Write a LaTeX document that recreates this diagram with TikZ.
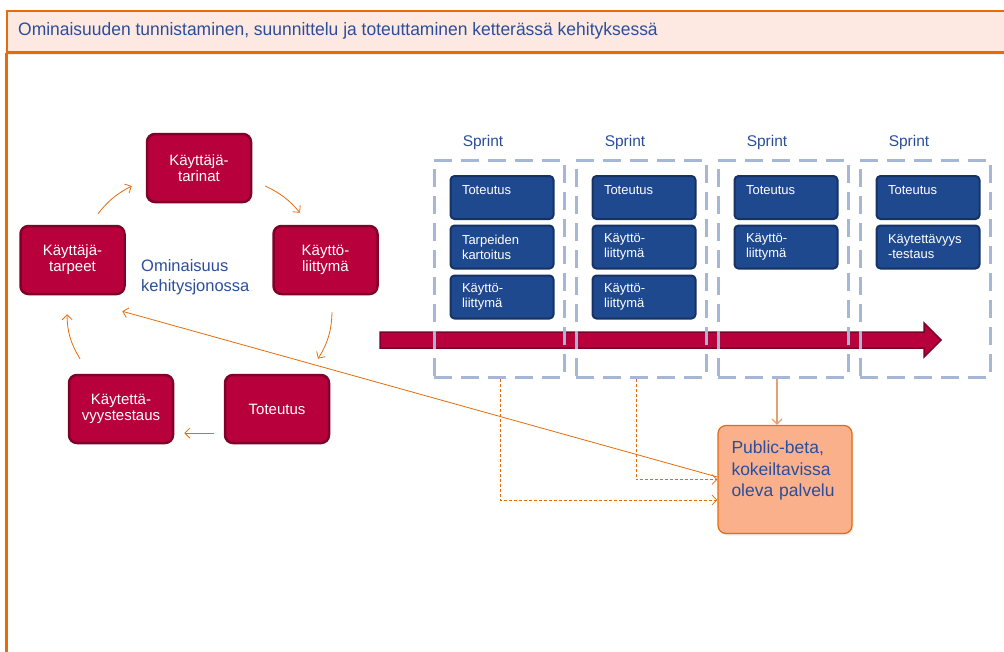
\documentclass[tikz,border=0pt]{standalone}
\usepackage{fontspec}
\setmainfont{Liberation Sans}
\newfontfamily\titlefont[FakeStretch=0.97]{Liberation Sans}
\usetikzlibrary{positioning,calc,shadows,arrows,arrows.meta}

\definecolor{crimson}{RGB}{184,0,60}
\definecolor{crimsondark}{RGB}{128,0,42}
\definecolor{sprintblue}{RGB}{31,73,142}
\definecolor{sprintbluedark}{RGB}{22,50,100}
\definecolor{dashblue}{RGB}{165,182,214}
\definecolor{textblue}{RGB}{43,78,155}
\definecolor{orangeline}{RGB}{228,108,10}
\definecolor{titlefill}{RGB}{253,233,225}
\definecolor{betafill}{RGB}{251,176,140}
\definecolor{lightorange}{RGB}{229,160,110}

\tikzstyle{titlebar}=[rectangle,fill=titlefill,draw=orangeline,line width=1.2pt,minimum width=1003pt,minimum height=41pt,inner sep=0pt,drop shadow={shadow xshift=0pt,shadow yshift=-3pt,fill=black!12}]
\tikzstyle{titletext}=[inner sep=0pt,text=textblue,font=\titlefont\fontsize{18}{20}\selectfont]
\tikzstyle{phase}=[rectangle,rounded corners=8pt,fill=crimson,draw=crimsondark,line width=2.5pt,minimum width=104pt,minimum height=68pt,text width=96pt,align=center,text=white,font=\fontsize{15}{16}\selectfont]
\tikzstyle{queuetext}=[inner sep=0pt,align=left,text=textblue,font=\fontsize{16.5}{20}\selectfont]
\tikzstyle{sprintbox}=[rectangle,draw=dashblue,line width=3pt,dash pattern=on 18pt off 9pt,minimum width=130pt,minimum height=217pt]
\tikzstyle{sprintlabel}=[text=textblue,font=\fontsize{15.5}{17}\selectfont]
\tikzstyle{task}=[rectangle,rounded corners=4pt,fill=sprintblue,draw=sprintbluedark,line width=2pt,minimum width=103pt,minimum height=43pt,text width=80pt,inner xsep=11.5pt,align=left,text=white,font=\fontsize{13}{15}\selectfont]
\tikzstyle{timeline}=[fill=crimson,draw=crimsondark,line width=1.5pt]
\tikzstyle{beta}=[rectangle,rounded corners=8pt,fill=betafill,draw=orangeline,line width=1.2pt,minimum width=134pt,minimum height=108pt,text width=107pt,inner xsep=13.5pt,align=left,text=textblue,font=\fontsize{17.5}{21.5}\selectfont,drop shadow={shadow xshift=1.5pt,shadow yshift=-2pt,fill=black!15}]
\tikzstyle{cycleedge}=[draw=orangeline,-{Straight Barb[length=5pt,width=10pt]},line width=0.8pt]
\tikzstyle{flowedge}=[draw=orangeline,-{Straight Barb[length=5pt,width=10pt]},line width=0.8pt,dash pattern=on 3pt off 2pt]
\tikzstyle{releaseedge}=[draw=lightorange,-{Straight Barb[length=5pt,width=10pt]},line width=1.2pt]

\begin{document}
\begin{tikzpicture}[x=1pt,y=-1pt]
\useasboundingbox (0,0) rectangle (1004,651);

% title bar and frame
\node[titlebar] (bar) at (508.5,31.5) {};
\draw[orangeline,line width=3pt] (bar.south west) -- (bar.south east);
\draw[orangeline,line width=3.5pt] (bar.south west) -- ++(0,600);
\node[titletext,anchor=base west] (title) at (18,35) {Ominaisuuden tunnistaminen, suunnittelu ja toteuttaminen ketterässä kehityksessä};

% timeline arrow
\draw[timeline] (380,332) -- (924,332) -- (924,323) -- (941,340) -- (924,357) -- (924,348) -- (380,348) -- cycle;

% sprints
\foreach \i/\name in {0/s1,1/s2,2/s3,3/s4}{
    \node[sprintbox] (\name) at (499+142*\i,268.5) {};
    \node[sprintlabel] (\name lbl) at (483+142*\i,142) {Sprint};
}

\foreach \pos/\name/\label in {{(502,197.5)/t11/Toteutus\\\phantom{T}}, {(502,247)/t12/Tarpeiden\\kartoitus}, {(502,297)/t13/Käyttö-\\liittymä},
    {(644,197.5)/t21/Toteutus\\\phantom{T}}, {(644,247)/t22/Käyttö-\\liittymä}, {(644,297)/t23/Käyttö-\\liittymä},
    {(786,197.5)/t31/Toteutus\\\phantom{T}}, {(786,247)/t32/Käyttö-\\liittymä},
    {(928,197.5)/t41/Toteutus\\\phantom{T}}, {(928,247)/t42/Käytettävyys\\-testaus}}
    \node[task] (\name) at \pos {\label};

% feature cycle
\foreach \pos/\name/\label in {{(199,168)/tarinat/Käyttäjä-\\tarinat}, {(325.5,260)/liittyma/Käyttö-\\liittymä}, {(72.5,260)/tarpeet/Käyttäjä-\\tarpeet}, {(277,409)/toteutus/Toteutus}, {(121,409)/testaus/Käytettä-\\vyystestaus}}
    \node[phase] (\name) at \pos {\label};

\node[queuetext,anchor=west] (queue) at (141,277) {Ominaisuus\\kehitysjonossa};

\draw[cycleedge] ($(tarpeet.north)+(25.5,-11)$) to[bend left=12] ($(tarinat.west)+(-14,18)$);
\draw[cycleedge] ($(tarinat.east)+(13,18)$) to[bend left=12] ($(liittyma.north)+(-25.5,-12)$);
\draw[cycleedge] ($(liittyma.south)+(6.5,17)$) to[bend left=15] ($(toteutus.north)+(41,-15)$);
\draw[cycleedge] ($(toteutus.west)+(-10,24)$) -- ($(testaus.east)+(10,24)$);
\draw[cycleedge] ($(testaus.north)+(-41,-15)$) to[bend left=15] ($(tarpeet.south)+(-5.5,19)$);

% release
\node[beta] (beta) at (785,479.5) {Public-beta,\\kokeiltavissa\\oleva palvelu\\\phantom{o}};

\draw[releaseedge] ([xshift=-6pt]s3.south) -- ([xshift=-8pt]beta.north);
\draw[flowedge] ([xshift=1pt]s1.south) |- ([yshift=-20.5pt]beta.west);
\draw[flowedge] ([xshift=-5pt]s2.south) |- (beta.west);
\draw[cycleedge] ([yshift=2.5pt]beta.west) -- ($(tarpeet.south east)+(-3.5,16)$);

\end{tikzpicture}
\end{document}
